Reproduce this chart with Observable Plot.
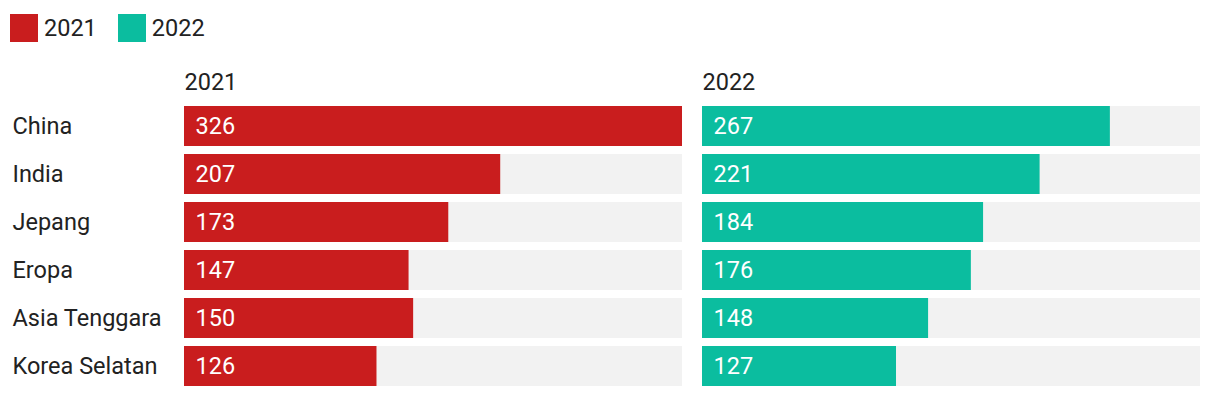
<!DOCTYPE html>
<html>
<head>
<meta charset="utf-8">
<script src="https://cdn.jsdelivr.net/npm/d3@7"></script>
<script src="https://cdn.jsdelivr.net/npm/@observablehq/plot@0.6"></script>
<style>
  html, body { margin: 0; padding: 0; background: #fff; }
  body { font-family: Roboto, sans-serif; color: #222; }
  .legend { display: flex; align-items: center; height: 56px; padding-left: 10px; font-size: 23.5px; }
  .legend .item { display: flex; align-items: center; margin-right: 21px; }
  .legend .sw { width: 28px; height: 28px; margin-right: 6px; }
  #chart svg { display: block; }
</style>
</head>
<body>
<div class="legend" id="legend"></div>
<div id="chart"></div>
<script>
const regions = ["China", "India", "Jepang", "Eropa", "Asia Tenggara", "Korea Selatan"];
const years = ["2021", "2022"];
const values2021 = [326, 207, 173, 147, 150, 126];
const values2022 = [267, 221, 184, 176, 148, 127];
const colors = ["#c91d1e", "#0bbd9f"];
const maxValue = 326;

const data = [];
regions.forEach((r, i) => {
  data.push({region: r, year: "2021", value: values2021[i]});
  data.push({region: r, year: "2022", value: values2022[i]});
});
const bg = [];
regions.forEach(r => years.forEach(y => bg.push({region: r, year: y, value: maxValue})));

const legend = document.getElementById("legend");
years.forEach((y, i) => {
  const item = document.createElement("div");
  item.className = "item";
  item.innerHTML = `<div class="sw" style="background:${colors[i]}"></div><span>${y}</span>`;
  legend.appendChild(item);
});

const fs = 23.5;
const chart = Plot.plot({
  width: 1220,
  height: 336,
  marginLeft: 184,
  marginRight: 20,
  marginTop: 50,
  marginBottom: 6,
  style: {fontFamily: "Roboto, sans-serif", fontSize: fs + "px", color: "#222", background: "#fff"},
  fx: {domain: years, paddingInner: 20 / 518, paddingOuter: 0, axis: null},
  y: {domain: regions, paddingInner: 1 / 6, paddingOuter: 0, label: null},
  x: {domain: [0, maxValue], axis: null},
  color: {domain: years, range: colors},
  marks: [
    Plot.barX(bg, {fx: "year", y: "region", x: "value", fill: "#f2f2f2"}),
    Plot.barX(data, {fx: "year", y: "region", x: "value", fill: "year"}),
    Plot.text(data, {fx: "year", y: "region", x: 0, text: d => String(d.value), textAnchor: "start", dx: 11, fill: "white", fontSize: fs}),
    Plot.text(years, {fx: d => d, text: d => d, frameAnchor: "top-left", lineAnchor: "middle", dy: -24, fill: "#222", fontSize: fs}),
    Plot.axisY({tickSize: 0, tickPadding: 0, textAnchor: "start", dx: -172, fill: "#222", fontSize: fs, label: null})
  ]
});
document.getElementById("chart").appendChild(chart);
</script>
</body>
</html>
